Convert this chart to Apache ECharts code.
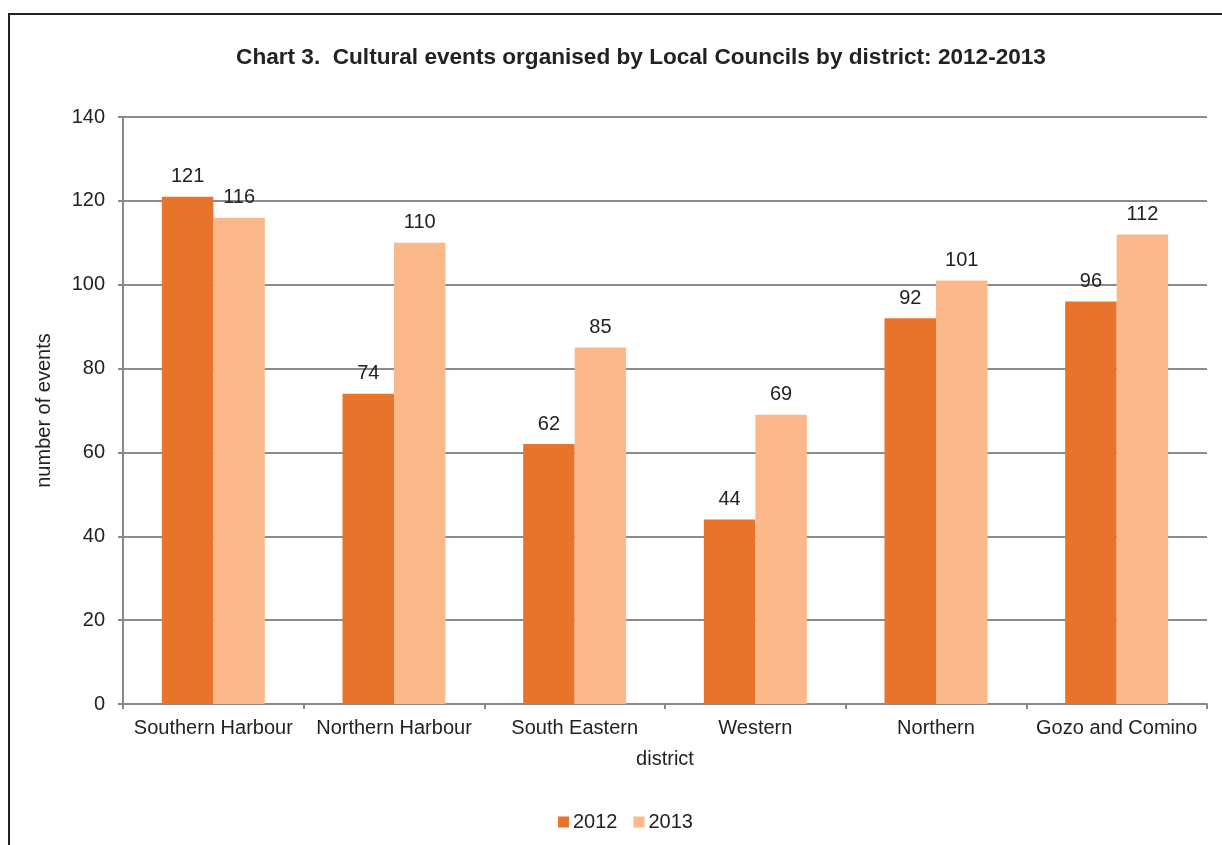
<!DOCTYPE html>
<html>
<head>
<meta charset="utf-8">
<script src="https://cdn.jsdelivr.net/npm/echarts@6/dist/echarts.min.js"></script>
<style>html,body{margin:0;padding:0;background:#fff;}#c{width:1222px;height:845px;}</style>
</head>
<body>
<div id="c"></div>
<script>
const categories = ['Southern Harbour', 'Northern Harbour', 'South Eastern', 'Western', 'Northern', 'Gozo and Comino'];
const values2012 = [121, 74, 62, 44, 92, 96];
const values2013 = [116, 110, 85, 69, 101, 112];
const seriesNames = ['2012', '2013'];
const titleText = 'Chart 3.  Cultural events organised by Local Councils by district: 2012-2013';

const font = '"Liberation Sans", Arial, sans-serif';
const chart = echarts.init(document.getElementById('c'));
const labelCfg = {show: true, position: 'top', distance: 10, color: '#222', fontSize: 20, fontFamily: font};
chart.setOption({
  animation: false,
  graphic: [{type: 'rect', shape: {x: 9, y: 14, width: 1400, height: 1000}, style: {fill: 'none', stroke: '#222', lineWidth: 2}, z: 0}],
  title: {text: titleText, left: 636, top: 41, textAlign: 'center',
    textStyle: {fontFamily: font, fontSize: 22.6, fontWeight: 'bold', color: '#222'}},
  legend: {data: seriesNames, bottom: 8, left: 553, itemWidth: 11, itemHeight: 11, itemGap: 16,
    icon: 'rect', textStyle: {fontFamily: font, fontSize: 20, color: '#222', padding: [0, 0, 0, -1]}},
  grid: {left: 123, right: 15, top: 117, bottom: 141, containLabel: false},
  xAxis: {type: 'category', data: categories, name: 'district', nameLocation: 'middle', nameGap: 45,
    nameTextStyle: {fontFamily: font, fontSize: 20, color: '#222'},
    axisLine: {lineStyle: {color: '#888', width: 2}},
    axisTick: {show: true, alignWithLabel: false, length: 5, lineStyle: {color: '#888', width: 2}},
    axisLabel: {fontFamily: font, fontSize: 20, color: '#222', margin: 14, interval: 0}},
  yAxis: {type: 'value', min: 0, max: 140, interval: 20, name: 'number of events', nameLocation: 'middle', nameGap: 69,
    nameTextStyle: {fontFamily: font, fontSize: 20, color: '#222'},
    axisLine: {show: true, lineStyle: {color: '#888', width: 2}},
    axisTick: {show: true, length: 5, lineStyle: {color: '#888', width: 2}},
    axisLabel: {fontFamily: font, fontSize: 20, color: '#222', margin: 18},
    splitLine: {lineStyle: {color: '#8c8c8c', width: 2}}},
  series: [
    {name: seriesNames[0], type: 'bar', data: values2012, barGap: '0%', barCategoryGap: '43%',
      itemStyle: {color: '#E8732A'}, label: labelCfg},
    {name: seriesNames[1], type: 'bar', data: values2013, barGap: '0%', barCategoryGap: '43%',
      itemStyle: {color: '#FBB98B'}, label: labelCfg}
  ]
});
</script>
</body>
</html>
